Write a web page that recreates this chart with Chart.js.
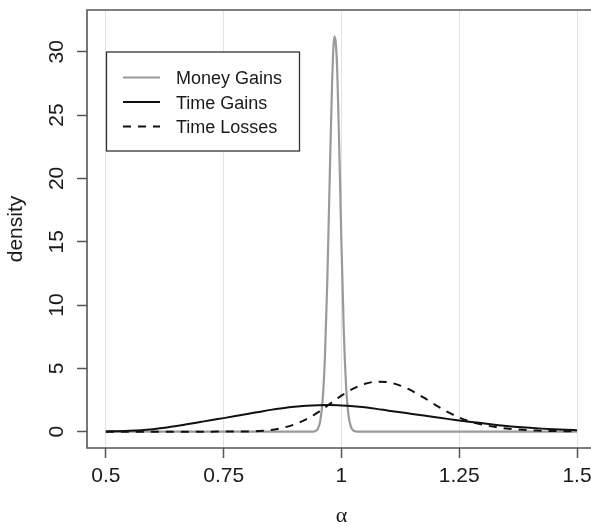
<!DOCTYPE html>
<html>
<head>
<meta charset="utf-8">
<script src="https://cdn.jsdelivr.net/npm/chart.js@4"></script>
<style>
  html, body { margin: 0; padding: 0; background: #fff; overflow: hidden; }
  #wrap { position: absolute; left: 0; top: 0; width: 591px; height: 526px; }
</style>
</head>
<body>
<div id="wrap"><canvas id="myChart" width="591" height="526"></canvas></div>
<script>
// values
const seriesNames = ['Money Gains', 'Time Gains', 'Time Losses'];

const alphaMoney = [0.5, 0.93, 0.94, 0.945, 0.95, 0.955, 0.96, 0.965, 0.97, 0.975, 0.98, 0.985, 0.99,
  0.995, 1.0, 1.005, 1.01, 1.015, 1.02, 1.025, 1.03, 1.035, 1.045, 1.5];
const moneyGains = [0, 0, 0.01, 0.05, 0.23, 0.83, 2.43, 5.9, 11.9, 19.8, 27.3, 31.2, 29.5,
  23.0, 14.9, 8.0, 3.55, 1.3, 0.4, 0.1, 0.02, 0, 0, 0];

const alphaTime = [0.5, 0.525, 0.55, 0.575, 0.6, 0.625, 0.65, 0.675, 0.7, 0.725, 0.75, 0.775, 0.8, 0.825,
  0.85, 0.875, 0.9, 0.925, 0.95, 0.975, 1.0, 1.025, 1.05, 1.075, 1.1, 1.125, 1.15, 1.175, 1.2, 1.225,
  1.25, 1.275, 1.3, 1.325, 1.35, 1.375, 1.4, 1.425, 1.45, 1.475, 1.5];
const timeGains = [0.02, 0.04, 0.07, 0.12, 0.2, 0.3, 0.44, 0.6, 0.76, 0.92, 1.07, 1.23, 1.4, 1.56,
  1.72, 1.85, 1.96, 2.04, 2.09, 2.1, 2.07, 2.01, 1.92, 1.8, 1.66, 1.53, 1.4, 1.27, 1.14, 1.01,
  0.89, 0.77, 0.66, 0.55, 0.45, 0.37, 0.3, 0.24, 0.19, 0.15, 0.12];
const timeLosses = [0, 0, 0, 0, 0, 0, 0, 0, 0, 0, 0.01, 0.01, 0.02, 0.05,
  0.13, 0.3, 0.57, 0.97, 1.52, 2.18, 2.85, 3.4, 3.78, 3.95, 3.9, 3.64, 3.22, 2.68, 2.1, 1.56,
  1.12, 0.78, 0.55, 0.38, 0.25, 0.17, 0.11, 0.08, 0.05, 0.04, 0.03];

const xTicks = [0.5, 0.75, 1, 1.25, 1.5];
const xTickLabels = ['0.5', '0.75', '1', '1.25', '1.5'];
const yTicks = [0, 5, 10, 15, 20, 25, 30];
const yTickLabels = ['0', '5', '10', '15', '20', '25', '30'];

const sansFont = '"Liberation Sans", Arial, Helvetica, sans-serif';
const axisGray = '#555555';
const textColor = '#1a1a1a';

function toPoints(xs, ys) {
  return xs.map((x, i) => ({ x: x, y: ys[i] }));
}

// box, rotated y labels, axis titles and the legend (R style)
const rDecor = {
  id: 'rDecor',
  afterDatasetsDraw(chart) {
    const c = chart.ctx;
    const area = chart.chartArea;
    const ys = chart.scales.y;
    const xs = chart.scales.x;

    c.save();
    // the plot box runs off the right edge of the picture
    c.strokeStyle = axisGray;
    c.lineWidth = 1.6;
    c.beginPath();
    c.moveTo(chart.width + 5, area.top);
    c.lineTo(area.left, area.top);
    c.lineTo(area.left, area.bottom);
    c.lineTo(chart.width + 5, area.bottom);
    c.stroke();

    c.fillStyle = textColor;
    c.font = '21px ' + sansFont;
    c.textAlign = 'center';
    c.textBaseline = 'alphabetic';
    yTicks.forEach((v, i) => {
      c.save();
      c.translate(63, ys.getPixelForValue(v));
      c.rotate(-Math.PI / 2);
      c.fillText(yTickLabels[i], 0, 0);
      c.restore();
    });

    // y title
    c.save();
    c.translate(22, (area.top + area.bottom) / 2);
    c.rotate(-Math.PI / 2);
    c.fillText('density', 0, 0);
    c.restore();

    // x title, centred at alpha = 1 like the clipped plot region
    c.font = '22px "Liberation Serif", "DejaVu Serif", serif';
    c.fillText('\u03b1', xs.getPixelForValue(1), 522);

    // legend
    c.fillStyle = '#fff';
    c.fillRect(106, 52, 193, 99);
    c.strokeStyle = '#333';
    c.lineWidth = 1.3;
    c.strokeRect(106.5, 52, 193, 99);
    const rows = [77.5, 102, 126.5];
    c.font = '18px ' + sansFont;
    c.textAlign = 'left';
    chart.data.datasets.forEach((ds, i) => {
      c.beginPath();
      c.strokeStyle = ds.borderColor;
      c.lineWidth = ds.borderWidth;
      c.setLineDash(ds.borderDash || []);
      c.moveTo(123, rows[i]);
      c.lineTo(160, rows[i]);
      c.stroke();
      c.setLineDash([]);
      c.fillStyle = textColor;
      c.fillText(ds.label, 176, rows[i] + 6.5);
    });
    c.restore();
  }
};

const ctx = document.getElementById('myChart');
const myChart = new Chart(ctx, {
  type: 'line',
  data: {
    datasets: [{
      label: seriesNames[0],
      data: toPoints(alphaMoney, moneyGains),
      borderColor: '#9a9a9a',
      borderWidth: 2.2,
      order: 3
    }, {
      label: seriesNames[1],
      data: toPoints(alphaTime, timeGains),
      borderColor: '#111111',
      borderWidth: 2,
      order: 1
    }, {
      label: seriesNames[2],
      data: toPoints(alphaTime, timeLosses),
      borderColor: '#111111',
      borderWidth: 2,
      borderDash: [8, 7],
      order: 2
    }]
  },
  options: {
    responsive: false,
    animation: false,
    devicePixelRatio: 1,
    layout: { padding: { top: 10, right: 0, left: 0, bottom: 0 } },
    elements: {
      point: { radius: 0 },
      line: { cubicInterpolationMode: 'monotone', fill: false }
    },
    plugins: {
      legend: { display: false },
      tooltip: { enabled: false }
    },
    scales: {
      x: {
        type: 'linear',
        min: 0.46,
        max: 1.5297,
        afterBuildTicks: (s) => { s.ticks = xTicks.map(v => ({ value: v })); },
        afterFit: (s) => {
          s.height = 78;
          // labels fit inside anyway, don't let them shrink the plot
          s.paddingLeft = 0;
          s.paddingRight = 0;
        },
        border: { display: false },
        grid: {
          color: '#e2e2e2',
          lineWidth: 1,
          tickColor: axisGray,
          tickWidth: 1.5,
          tickLength: 10
        },
        ticks: {
          color: textColor,
          font: { family: sansFont, size: 21 },
          padding: 6,
          maxRotation: 0,
          autoSkip: false,
          callback: (v) => xTickLabels[xTicks.indexOf(v)]
        }
      },
      y: {
        type: 'linear',
        min: -1.29,
        max: 33.3,
        afterBuildTicks: (s) => { s.ticks = yTicks.map(v => ({ value: v })); },
        afterFit: (s) => { s.width = 87; },
        border: { display: false },
        grid: {
          drawOnChartArea: false,
          tickColor: axisGray,
          tickWidth: 1.5,
          tickLength: 10
        },
        ticks: { display: false }
      }
    }
  },
  plugins: [rDecor]
});
</script>
</body>
</html>
